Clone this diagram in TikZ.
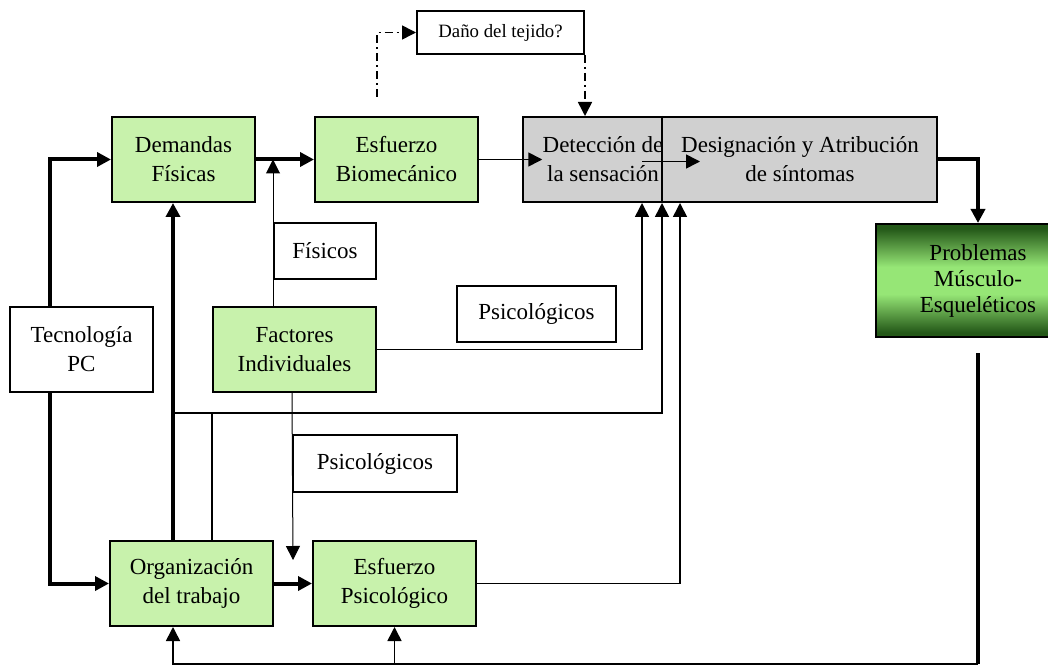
\documentclass[tikz,border=0pt]{standalone}
\usepackage{fontspec}
\setmainfont{Liberation Serif}
\usetikzlibrary{arrows.meta}

\definecolor{boxgreen}{RGB}{200,242,172}
\definecolor{boxgray}{RGB}{208,208,208}
\definecolor{darkgreen}{RGB}{36,88,24}
\definecolor{lightgreen}{RGB}{150,230,118}
\pgfdeclareverticalshading{probshade}{100bp}{color(0bp)=(darkgreen); color(27bp)=(darkgreen);
    color(44bp)=(lightgreen); color(56bp)=(lightgreen); color(73bp)=(darkgreen); color(100bp)=(darkgreen)}

\begin{document}
\begin{tikzpicture}[x=0.5pt, y=-0.5pt,
    box/.style={draw, line width=1pt, align=center, inner sep=0pt,
        font=\fontsize{11.5}{14.5}\selectfont},
    greenbox/.style={box, fill=boxgreen, minimum width=81.5pt, minimum height=42.5pt},
    whitebox/.style={box, minimum height=28pt},
    txt/.style={align=center, inner sep=0pt, font=\fontsize{11.5}{14.5}\selectfont},
    tip/.style={-{Triangle[length=7pt, width=7pt]}},
    thickarr/.style={tip, line width=2pt},
    arr/.style={tip, line width=0.8pt},
    thinarr/.style={tip, line width=0.5pt},
    dashdot/.style={line width=0.8pt, dash pattern=on 4pt off 2pt on 1pt off 2pt}]
    \useasboundingbox (0,0) rectangle (1048,668);

    % Lanes for the connectors
    \coordinate (xt) at (50,0);
    \coordinate (xa) at (173,0);
    \coordinate (xb) at (642,0);
    \coordinate (xc) at (662,0);
    \coordinate (xe) at (680,0);
    \coordinate (ya) at (0,413);
    \coordinate (yb) at (0,664);
    \coordinate (dd) at (377,97);
    \coordinate (pend) at (293,560);

    % Draw Boxes
    % -- top row
    \node[greenbox, minimum width=71.5pt] (dem) at (183.5,159.5) {Demandas\\Físicas};
    \node[greenbox] (bio) at (396.5,159.5) {Esfuerzo\\Biomecánico};
    \node[box, minimum width=83.5pt, minimum height=21.5pt,
        font=\fontsize{9.4}{11}\selectfont] (dano) at (500.5,32.5) {Daño del tejido?};
    \node[box, fill=boxgray, minimum width=207pt, minimum height=42.5pt] (sint) at (730,159.5) {};
    \node[txt] (det) at (603,159.5) {Detección de\\la sensación};
    \node[txt] (des) at (800,159.5) {Designación y Atribución\\de síntomas};
    \node[box, shading=probshade, minimum width=102pt, minimum height=56.5pt,
        font=\fontsize{11.5}{13}\selectfont] (prob) at (978,280.5)
        {Problemas\\Músculo-\\Esqueléticos};

    % -- middle row
    \node[whitebox, minimum width=51pt] (fis) at (325,251) {Físicos};
    \node[whitebox, minimum width=79.5pt] (psi1) at (536.5,314) {Psicológicos};
    \node[box, minimum width=71.5pt, minimum height=42.5pt] (tec) at (81.5,349.5) {Tecnología\\PC};
    \node[greenbox] (fac) at (294.5,349.5) {Factores\\Individuales};
    \node[whitebox, minimum width=82pt, minimum height=28.5pt] (psi2) at (375,463.5) {Psicológicos};

    % -- bottom row
    \node[greenbox] (org) at (191.5,583.5) {Organización\\del trabajo};
    \node[greenbox] (epsi) at (394.5,583.5) {Esfuerzo\\Psicológico};

    % Divider in the grey box
    \draw[line width=1pt] (sint.north -| xc) -- (sint.south -| xc);

    % Draw Connectors
    % -- main flow
    \draw[thickarr] (tec.north -| xt) |- (dem.west);
    \draw[thickarr] (tec.south -| xt) |- (org.west);
    \draw[thickarr] (dem) -- (bio);
    \draw[thickarr] (org) -- (epsi);
    \draw[thickarr] (org.north -| xa) -- (dem.south -| xa);
    \draw[arr] (bio) -- (det);
    \draw[arr] ([yshift=-1pt]xb |- det.east) -- ++(58,0);
    \draw[thickarr] (sint.east) -| (prob.north);

    % -- tissue damage
    \draw[dashdot, tip] (dd) |- (dano.west);
    \draw[dashdot, tip] (dano.south east) -- (sint.north -| dano.south east);

    % -- individual factors
    \draw[thinarr] (fac.north -| fis.west) -- (dem.east -| fis.west);
    \draw[thinarr] (fac.south -| psi2.west) -- (pend);
    \draw[arr] (fac.east) -| (sint.south -| xb);

    % -- work organization and psychological effort
    \draw[line width=0.8pt] (org.north -| fac.west) -- (fac.west |- ya);
    \draw[arr] (xa |- ya) -| (sint.south -| xc);
    \draw[arr] (epsi.east) -| (sint.south -| xe);

    % -- feedback
    \draw[line width=2pt] ([yshift=-7.5pt]prob.south) -- (prob.south |- yb);
    \draw[arr] (prob.south |- yb) -- (xa |- yb) -- (org.south -| xa);
    \draw[arr] (epsi.south |- yb) -- (epsi.south);
\end{tikzpicture}
\end{document}
